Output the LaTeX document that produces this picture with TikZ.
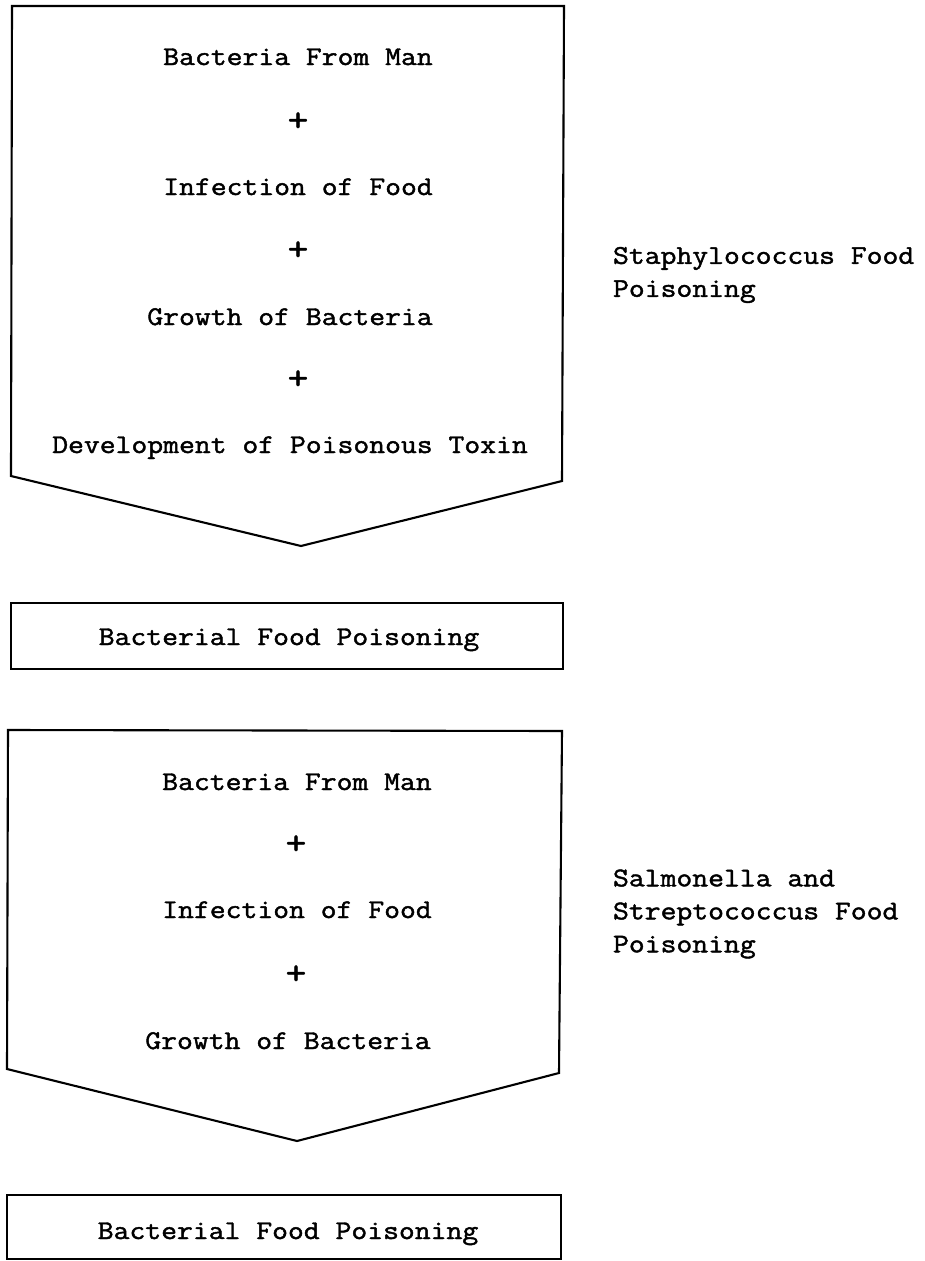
\documentclass[tikz,border=0pt]{standalone}
\usepackage{fontspec}
\newfontfamily\typefont[FakeStretch=1.14,FakeBold=1.6]{Latin Modern Mono}
\usepackage{tikz}

\begin{document}
\begin{tikzpicture}[x=1pt, y=-1pt, line width=2.1pt,
  font=\typefont\fontsize{27}{33}\selectfont,
  entry/.style={anchor=base, inner sep=0pt},
  plussign/.style={entry, scale=1.3},
  sidenote/.style={anchor=west, inner sep=0pt, align=left}]
  \useasboundingbox (0,0) rectangle (925,1261);

  % Upper chain
  \draw (12,6) -- (564,6) -- (562,481) -- (301,546) -- (11,476) -- cycle;
  \node[entry] (bacteriaA) at (298,65) {Bacteria From Man};
  \node[plussign] (plusA1) at (298,131) {+};
  \node[entry] (infectionA) at (298,195) {Infection of Food};
  \node[plussign] (plusA2) at (298,260) {+};
  \node[entry] (growthA) at (290,325) {Growth of Bacteria};
  \node[plussign] (plusA3) at (298,389) {+};
  \node[entry] (toxinA) at (290,453) {Development of Poisonous Toxin};

  \draw (11,603) rectangle (563,669);
  \node[entry] (resultA) at (289,645) {Bacterial Food Poisoning};

  % Side note for upper chain
  \node[sidenote] (staph) at (612,275) {Staphylococcus Food\\Poisoning};

  % Lower chain
  \draw (8,730) -- (562,731) -- (559,1073) -- (297,1141) -- (7,1069) -- cycle;
  \node[entry] (bacteriaB) at (297,790) {Bacteria From Man};
  \node[plussign] (plusB1) at (296,854) {+};
  \node[entry] (infectionB) at (297,918) {Infection of Food};
  \node[plussign] (plusB2) at (296,984) {+};
  \node[entry] (growthB) at (288,1049) {Growth of Bacteria};

  \draw (7,1195) rectangle (561,1259);
  \node[entry] (resultB) at (288,1239) {Bacterial Food Poisoning};

  % Side note for lower chain
  \node[sidenote] (salmo) at (612,914) {Salmonella and\\Streptococcus Food\\Poisoning};
\end{tikzpicture}
\end{document}
